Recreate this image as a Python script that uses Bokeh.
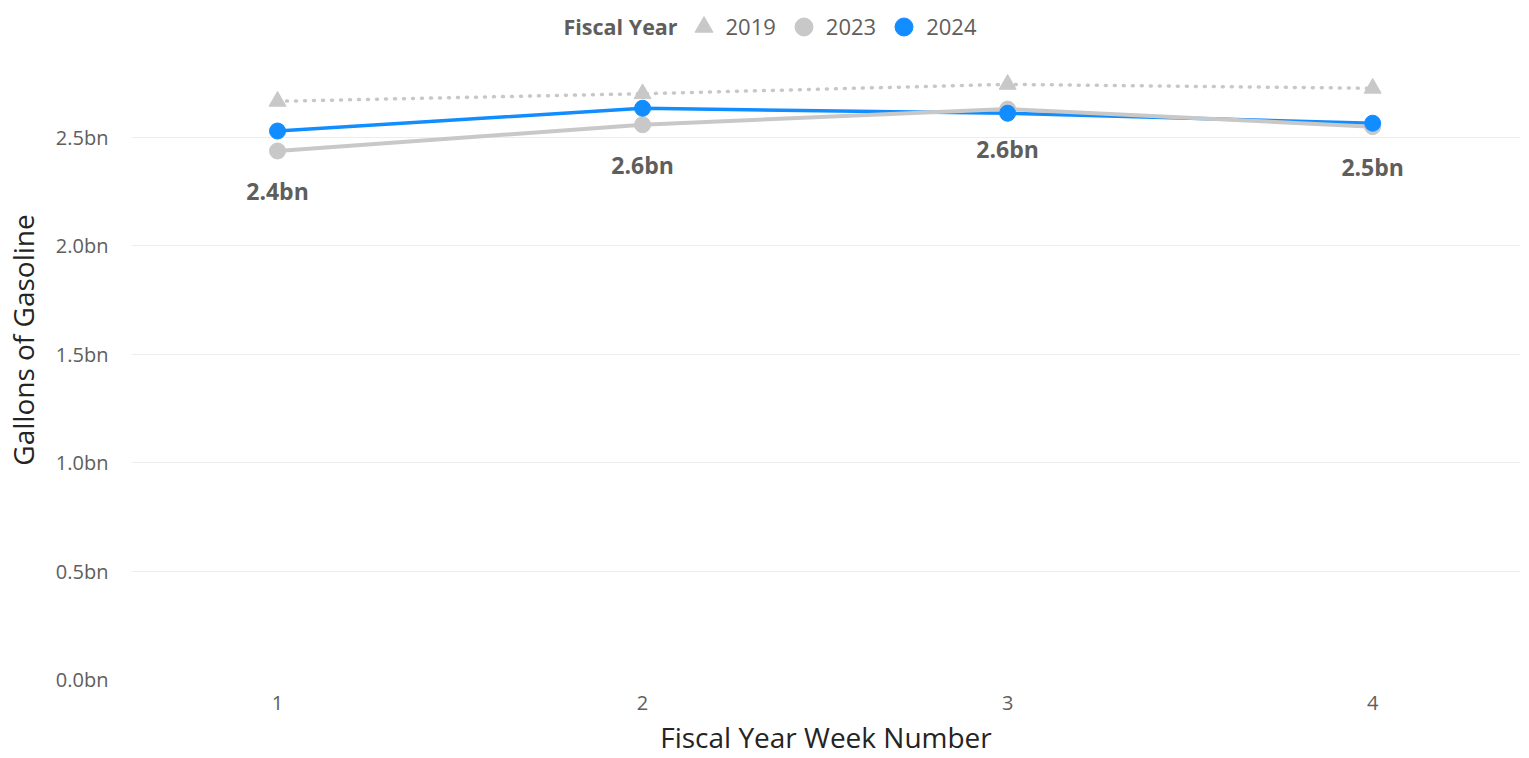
from bokeh.plotting import figure
from bokeh.models import (Legend, LegendItem, Label, FixedTicker,
                          PrintfTickFormatter, Range1d)
from bokeh.core.properties import value
from bokeh.embed import file_html
from bokeh.resources import INLINE

# ---- data (gallons of gasoline, in billions) ----
weeks = [1, 2, 3, 4]
week_labels = ["1", "2", "3", "4"]
fy2019 = [2.665, 2.700, 2.743, 2.725]
fy2023 = [2.436, 2.557, 2.629, 2.548]
fy2024 = [2.528, 2.633, 2.610, 2.564]
y_ticks = [0.0, 0.5, 1.0, 1.5, 2.0, 2.5]
labels_2023 = [f"{v:.1f}bn" for v in fy2023]

FONT = "Open Sans"
GRAY = "#C8C8C8"
BLUE = "#118DFF"
TXT = "#605E5C"
DARK = "#252423"

p = figure(width=1529, height=758, output_backend="svg", toolbar_location=None,
           x_range=Range1d(0.6, 4.405), y_range=Range1d(0, 3.1296),
           min_border_left=131, min_border_right=9, min_border_top=0,
           min_border_bottom=77)
p.outline_line_color = None
p.background_fill_color = "white"
p.border_fill_color = "white"

p.xgrid.visible = False
p.ygrid.grid_line_color = "#EDEDED"
p.ygrid.grid_line_width = 1

p.yaxis.ticker = FixedTicker(ticks=y_ticks)
p.yaxis.formatter = PrintfTickFormatter(format="%.1fbn")
p.xaxis.ticker = FixedTicker(ticks=weeks)
p.xaxis.major_label_overrides = {w: l for w, l in zip(weeks, week_labels)}

for ax in (p.xaxis, p.yaxis):
    ax.axis_line_color = None
    ax.major_tick_line_color = None
    ax.minor_tick_line_color = None
    ax.major_label_text_font = FONT
    ax.major_label_text_font_size = "20px"
    ax.major_label_text_color = TXT
    ax.axis_label_text_font = FONT
    ax.axis_label_text_font_size = "28px"
    ax.axis_label_text_font_style = "normal"
    ax.axis_label_text_color = DARK
    ax.axis_label_text_line_height = 0.9

p.xaxis.axis_label = "Fiscal Year Week Number"
p.yaxis.axis_label = "Gallons of Gasoline"
p.xaxis.major_label_standoff = 10
p.xaxis.axis_label_standoff = 5
p.yaxis.major_label_standoff = 17
p.yaxis.axis_label_standoff = 11

# ---- series ----
p.line(weeks, fy2019, line_color=GRAY, line_width=3.5, line_dash="1 8",
       line_cap="round")
r19 = p.scatter(weeks, fy2019, marker="triangle", size=17, color=GRAY)

p.line(weeks, fy2024, line_color=BLUE, line_width=3.5)
p.line(weeks, fy2023, line_color=GRAY, line_width=4)
r23 = p.scatter(weeks, fy2023, marker="circle", size=16, color=GRAY)
r24 = p.scatter(weeks, fy2024, marker="circle", size=16, color=BLUE)

p.text(x=weeks, y=fy2023, text=labels_2023, y_offset=40,
       text_align="center", text_baseline="middle",
       text_font=value(FONT), text_font_style="bold",
       text_font_size="23px", text_color=TXT)

# ---- legend ----
legend = Legend(items=[LegendItem(label="2019", renderers=[r19]),
                       LegendItem(label="2023", renderers=[r23]),
                       LegendItem(label="2024", renderers=[r24])],
                orientation="horizontal", location=(549.5, 630.5),
                glyph_width=45, glyph_height=45, label_standoff=-8,
                spacing=5, padding=0, margin=0,
                border_line_color=None, background_fill_alpha=0,
                label_text_font=FONT, label_text_font_size="22px",
                label_text_color=TXT)
p.add_layout(legend, "center")

p.add_layout(Label(x=432, y=653, x_units="screen", y_units="screen",
                   text="Fiscal Year", text_font=FONT, text_font_size="21.5px",
                   text_font_style="bold", text_color=TXT,
                   text_baseline="middle", text_align="left"))

open("out.html", "w").write(file_html(p, INLINE))
